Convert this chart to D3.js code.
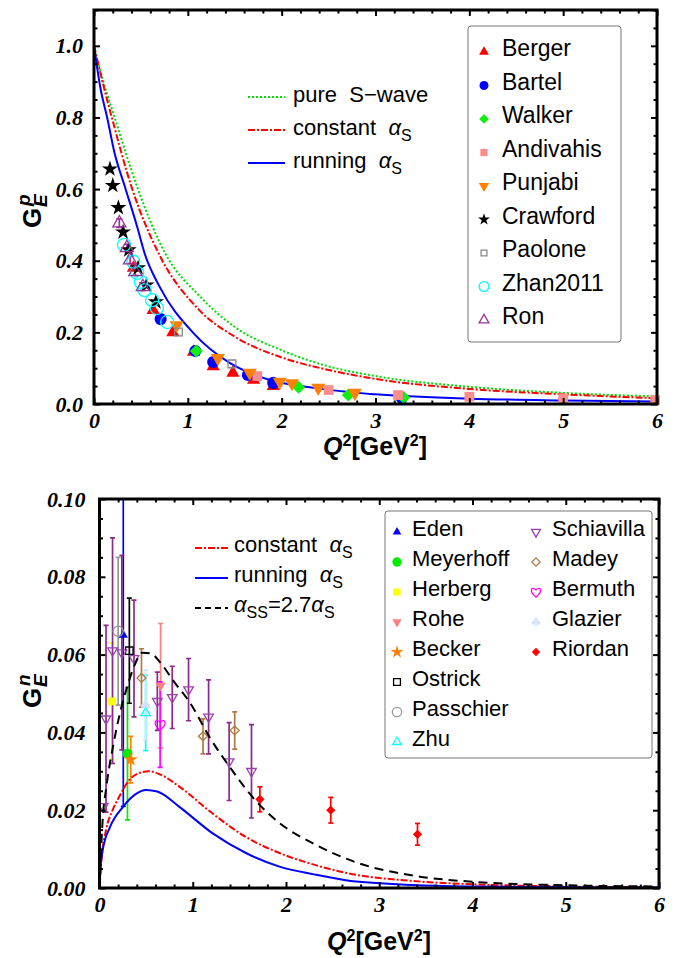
<!DOCTYPE html>
<html>
<head>
<meta charset="utf-8">
<script src="https://cdn.jsdelivr.net/npm/d3@7"></script>
<style>
  html, body { margin: 0; padding: 0; background: #fff; }
  svg { display: block; }
</style>
</head>
<body>
<div id="chart"></div>
<script>
// ---------- proton G_E data, [Q2, G] ----------
const berger    = [[0.42,0.38],[0.63,0.262],[0.84,0.2],[1.06,0.145],[1.27,0.105],[1.48,0.087],[1.7,0.067],[1.91,0.05]];
const bartel    = [[0.71,0.237],[1.08,0.148],[1.27,0.117],[1.64,0.081],[1.91,0.059],[3.28,0.017]];
const walker    = [[1.09,0.148],[2.18,0.047],[2.71,0.025],[3.3,0.018]];
const andivahis = [[1.74,0.078],[2.5,0.039],[3.24,0.025],[4.0,0.02],[5.0,0.016],[5.98,0.011]];
const punjabi   = [[0.88,0.22],[1.32,0.128],[1.66,0.087],[1.98,0.062],[2.11,0.058],[2.39,0.045],[2.78,0.031]];
const crawford  = [[0.17,0.656],[0.2,0.61],[0.26,0.548],[0.31,0.48],[0.37,0.43],[0.47,0.38],[0.56,0.332],[0.66,0.285]];
const paolone   = [[0.9,0.201],[1.47,0.112]];
const zhan2011  = [[0.32,0.444],[0.42,0.397],[0.46,0.366],[0.5,0.341],[0.54,0.318],[0.62,0.29],[0.67,0.268],[0.78,0.229]];
const ron       = [[0.27,0.505,0.012],[0.35,0.436,0.01],[0.385,0.402,0.01],[0.44,0.369,0.01],[0.52,0.327,0.01]];

// proton model curves, [Q2, G]
const pureSWave   = [[0,1],[0.1,0.9],[0.22,0.8],[0.46,0.606],[0.76,0.42],[1.13,0.3],[1.5,0.215],[2,0.15],[2.5,0.105],[3,0.078],[4,0.048],[5,0.031],[6,0.021]];
const constantP   = [[0,1],[0.1,0.89],[0.19,0.8],[0.4,0.606],[0.69,0.42],[1.13,0.26],[1.5,0.188],[2,0.13],[2.5,0.095],[3,0.07],[4,0.042],[5,0.027],[6,0.016]];
const runningP    = [[0,1],[0.07,0.88],[0.14,0.8],[0.22,0.7],[0.33,0.606],[0.46,0.495],[0.54,0.42],[0.7,0.327],[1.06,0.198],[1.45,0.114],[1.84,0.07],[2.34,0.045],[3,0.027],[4,0.015],[5,0.01],[6,0.007]];

// ---------- neutron G_E data, [Q2, G, error] ----------
const eden       = [[0.255,0.065,0.044]];
const meyerhoff  = [[0.30,0.0345,0.017]];
const herberg    = [[0.135,0.048,0.015]];
const rohe       = [[0.655,0.052,0.016]];
const becker     = [[0.335,0.033,0.006]];
const ostrick    = [[0.32,0.061,0.0135]];
const passchier  = [[0.20,0.066,0.019]];
const zhu        = [[0.495,0.045,0.0097]];
const schiavilla = [[0.04,0.021,0],[0.07,0.0435,0.024],[0.14,0.061,0.029],[0.24,0.0605,0.025],[0.37,0.059,0.015],[0.62,0.048,0.0075],[0.78,0.049,0.008],[0.955,0.051,0.008],[1.17,0.044,0.0095],[1.39,0.0325,0.01],[1.63,0.030,0.012]];
const madey      = [[0.45,0.054,0.0075],[1.11,0.039,0.0045],[1.45,0.0405,0.0048]];
const bermuth    = [[0.65,0.042,0.011]];
const glazier    = [[0.495,0.047,0.009]];
const riordan    = [[1.72,0.0228,0.0032],[2.48,0.020,0.0033],[3.41,0.0138,0.0028]];

// neutron model curves, [Q2, G]
const constantN = [[0,0],[0.018,0.0064],[0.07,0.0149],[0.14,0.02],[0.21,0.0234],[0.32,0.0278],[0.42,0.0295],[0.53,0.03],[0.65,0.0292],[0.86,0.026],[1.21,0.0192],[1.57,0.0131],[1.93,0.009],[2.3,0.006],[2.64,0.0039],[3.36,0.0018],[4.07,0.0009],[5,0.0004],[6,0.0002]];
const runningN  = [[0,0],[0.01,0.0048],[0.035,0.0098],[0.11,0.0155],[0.25,0.0208],[0.38,0.024],[0.5,0.0252],[0.62,0.0248],[0.86,0.0208],[1.21,0.0141],[1.57,0.009],[1.93,0.0055],[2.3,0.0035],[2.64,0.002],[3.36,0.0008],[4,0.0004],[5,0.0002],[6,0.0001]];
const alphaSSN  = [[0,0],[0.03,0.016],[0.08,0.027],[0.15,0.037],[0.22,0.045],[0.3,0.052],[0.38,0.0575],[0.46,0.0605],[0.55,0.0603],[0.65,0.058],[0.8,0.053],[0.96,0.048],[1.2,0.038],[1.4,0.031],[1.64,0.0234],[1.93,0.0167],[2.28,0.0116],[2.75,0.0066],[3.36,0.0032],[4,0.0016],[5,0.0007],[6,0.0004]];

// tick labels
const xTicks  = [0, 1, 2, 3, 4, 5, 6];
const gpTicks = [0, 0.2, 0.4, 0.6, 0.8, 1.0];
const gnTicks = [0, 0.02, 0.04, 0.06, 0.08, 0.10];

// ---------- setup ----------
const width = 676, height = 958;
const sans = "'Liberation Sans', Arial, sans-serif";
const serif = "'Liberation Serif', 'Times New Roman', serif";

const svg = d3.select('#chart').append('svg')
  .attr('width', width).attr('height', height)
  .style('background', '#fff');

// custom marker shapes
const triDown = { draw(ctx, size) {
  const y = -Math.sqrt(size / (Math.sqrt(3) * 3));
  ctx.moveTo(0, -2 * y); ctx.lineTo(-Math.sqrt(3) * y, y); ctx.lineTo(Math.sqrt(3) * y, y); ctx.closePath();
}};
const diamond = { draw(ctx, size) {
  const r = Math.sqrt(size / 2);
  ctx.moveTo(0, -r); ctx.lineTo(r, 0); ctx.lineTo(0, r); ctx.lineTo(-r, 0); ctx.closePath();
}};
const heart = { draw(ctx, size) {
  const r = Math.sqrt(size) / 2;
  ctx.moveTo(0, r * 1.05);
  ctx.bezierCurveTo(-r * 1.5, -r * 0.1, -r * 1.0, -r * 1.35, 0, -r * 0.45);
  ctx.bezierCurveTo(r * 1.0, -r * 1.35, r * 1.5, -r * 0.1, 0, r * 1.05);
  ctx.closePath();
}};
const club = { draw(ctx, size) {
  const r = Math.sqrt(size) / 4.2;
  [[0, -r * 1.1], [-r * 1.1, r * 0.4], [r * 1.1, r * 0.4]].forEach(([cx, cy]) => {
    ctx.moveTo(cx + r, cy); ctx.arc(cx, cy, r, 0, 2 * Math.PI);
  });
  ctx.moveTo(-r * 0.4, r * 2.3); ctx.lineTo(0, r * 0.2); ctx.lineTo(r * 0.4, r * 2.3); ctx.closePath();
}};
const shapes = {
  triUp: d3.symbolTriangle, triDown, circle: d3.symbolCircle, diamond,
  square: d3.symbolSquare, star: d3.symbolStar, heart, club
};
const marker = (type, size) => d3.symbol().type(shapes[type]).size(size)();

function drawMarkers(g, data, s, x, y) {
  const open = s.open;
  g.selectAll(null).data(data).enter().append('path')
    .attr('d', marker(s.sym, s.size))
    .attr('transform', d => `translate(${x(d[0])},${y(d[1])})`)
    .attr('fill', open ? 'none' : s.color)
    .attr('stroke', open ? s.color : 'none')
    .attr('stroke-width', open ? 1.3 : 0);
}

function drawErrors(g, data, color, x, y, cap) {
  const eg = g.append('g').attr('stroke', color).attr('stroke-width', 1.7).attr('fill', 'none');
  data.filter(d => d[2] > 0).forEach(d => {
    const cx = x(d[0]);
    eg.append('line').attr('x1', cx).attr('x2', cx).attr('y1', y(d[1] - d[2])).attr('y2', y(d[1] + d[2]));
    [d[1] - d[2], d[1] + d[2]].forEach(v => {
      eg.append('line').attr('x1', cx - cap).attr('x2', cx + cap).attr('y1', y(v)).attr('y2', y(v));
    });
  });
}

function drawFrame(x, y, xMinor, yMinor, yTicks, yFmt, yPad) {
  const [x0, x1] = x.range();
  const [yb, yt] = y.range();
  const axes = svg.append('g');
  const style = sel => {
    sel.select('.domain').remove();
    sel.selectAll('line').attr('stroke', '#000').attr('stroke-width', 2);
    sel.selectAll('text')
      .style('font-family', serif).style('font-weight', 'bold').style('font-style', 'italic')
      .style('font-size', '22px').attr('fill', '#000');
  };
  // major / minor on four sides
  axes.append('g').attr('transform', `translate(0,${yb})`)
    .call(d3.axisBottom(x).tickValues(xTicks).tickSize(-6).tickPadding(8).tickFormat(d3.format('d'))).call(style);
  axes.append('g').attr('transform', `translate(0,${yb})`)
    .call(d3.axisBottom(x).tickValues(xMinor).tickSize(-3.5).tickFormat('')).call(style);
  axes.append('g').attr('transform', `translate(0,${yt})`)
    .call(d3.axisTop(x).tickValues(xTicks).tickSize(-6).tickFormat('')).call(style);
  axes.append('g').attr('transform', `translate(0,${yt})`)
    .call(d3.axisTop(x).tickValues(xMinor).tickSize(-3.5).tickFormat('')).call(style);
  axes.append('g').attr('transform', `translate(${x0},0)`)
    .call(d3.axisLeft(y).tickValues(yTicks).tickSize(-6).tickPadding(yPad).tickFormat(yFmt)).call(style);
  axes.append('g').attr('transform', `translate(${x0},0)`)
    .call(d3.axisLeft(y).tickValues(yMinor).tickSize(-3.5).tickFormat('')).call(style);
  axes.append('g').attr('transform', `translate(${x1},0)`)
    .call(d3.axisRight(y).tickValues(yTicks).tickSize(-6).tickFormat('')).call(style);
  axes.append('g').attr('transform', `translate(${x1},0)`)
    .call(d3.axisRight(y).tickValues(yMinor).tickSize(-3.5).tickFormat('')).call(style);
  svg.append('rect')
    .attr('x', x0).attr('y', yt).attr('width', x1 - x0).attr('height', yb - yt)
    .attr('fill', 'none').attr('stroke', '#000').attr('stroke-width', 3);
}

function xTitle(cx, by) {
  const t = svg.append('text').attr('x', cx).attr('y', by).attr('text-anchor', 'middle')
    .style('font-family', sans).style('font-weight', 'bold').style('font-size', '25px');
  t.append('tspan').style('font-style', 'italic').text('Q');
  t.append('tspan').attr('dy', -9).style('font-size', '16px').text('2');
  t.append('tspan').attr('dy', 9).text('[GeV');
  t.append('tspan').attr('dy', -9).style('font-size', '16px').text('2');
  t.append('tspan').attr('dy', 9).text(']');
}

function yTitle(px, py, sup) {
  const g = svg.append('g').attr('transform', `translate(${px},${py}) rotate(-90)`)
    .style('font-family', sans).style('font-weight', 'bold');
  g.append('text').attr('x', 0).attr('y', 0).style('font-size', '26px').text('G');
  g.append('text').attr('x', 21).attr('y', 6).style('font-size', '19px').style('font-style', 'italic').text('E');
  g.append('text').attr('x', 22).attr('y', -11).style('font-size', '19px').style('font-style', 'italic').text(sup);
}

// text like "constant  αS"
function alphaText(g, x, y, parts) {
  const t = g.append('text').attr('x', x).attr('y', y)
    .style('font-family', sans).style('font-size', '22px').style('white-space', 'pre');
  parts.forEach(p => {
    const ts = t.append('tspan').text(p.t);
    if (p.it) ts.style('font-style', 'italic');
    if (p.sub) ts.attr('dy', 6).style('font-size', '16px');
    if (p.up) ts.attr('dy', -6);
  });
  return t;
}

const line = (x, y) => d3.line().x(d => x(d[0])).y(d => y(d[1])).curve(d3.curveMonotoneX);

// ============ TOP PANEL ============
const xP = d3.scaleLinear().domain([0, 6]).range([94, 657]);
const yP = d3.scaleLinear().domain([0, 1.1]).range([404, 10]);

const curvesP = [
  { data: pureSWave, color: '#00dd00', dash: '2,2', label: [{ t: 'pure  S\u2212wave' }] },
  { data: constantP, color: '#ff0000', dash: '7,2,2,2', label: [{ t: 'constant  ' }, { t: '\u03b1', it: true }, { t: 'S', sub: true }] },
  { data: runningP, color: '#0000ff', dash: null, label: [{ t: 'running  ' }, { t: '\u03b1', it: true }, { t: 'S', sub: true }] }
];

const setsP = [
  { name: 'Berger', data: berger, sym: 'triUp', size: 75, color: '#ff0000' },
  { name: 'Bartel', data: bartel, sym: 'circle', size: 115, color: '#0000ff' },
  { name: 'Walker', data: walker, sym: 'diamond', size: 85, color: '#11ee11' },
  { name: 'Andivahis', data: andivahis, sym: 'square', size: 95, color: '#ff8c8c' },
  { name: 'Punjabi', data: punjabi, sym: 'triDown', size: 85, color: '#ff8000' },
  { name: 'Crawford', data: crawford, sym: 'star', size: 80, color: '#000000' },
  { name: 'Paolone', data: paolone, sym: 'square', size: 60, color: '#888888', open: true },
  { name: 'Zhan2011', data: zhan2011, sym: 'circle', size: 135, color: '#00ffff', open: true },
  { name: 'Ron', data: ron, sym: 'triUp', size: 75, color: '#993399', open: true }
];

const gP = svg.append('g');
curvesP.forEach(c => {
  gP.append('path').datum(c.data).attr('d', line(xP, yP))
    .attr('fill', 'none').attr('stroke', c.color).attr('stroke-width', 2)
    .attr('stroke-dasharray', c.dash);
});
drawErrors(gP, ron, '#993399', xP, yP, 3);
setsP.forEach(s => drawMarkers(gP, s.data, s, xP, yP));

drawFrame(xP, yP, d3.range(0, 6.01, 0.2).filter(v => Math.abs(v - Math.round(v)) > 1e-6),
  d3.range(0, 1.101, 0.05).filter(v => Math.abs(v / 0.2 - Math.round(v / 0.2)) > 1e-6),
  gpTicks, d3.format('.1f'), 11);

// curve legend
curvesP.forEach((c, i) => {
  const by = 102 + i * 33;
  svg.append('line').attr('x1', 248).attr('x2', 285).attr('y1', by - 5).attr('y2', by - 5)
    .attr('stroke', c.color).attr('stroke-width', 2).attr('stroke-dasharray', c.dash);
  alphaText(svg, 293, by, c.label);
});

// marker legend
svg.append('rect').attr('x', 468).attr('y', 26).attr('width', 153).attr('height', 316)
  .attr('rx', 3).attr('fill', '#fff').attr('stroke', '#777').attr('stroke-width', 1);
setsP.forEach((s, i) => {
  const by = 56 + i * 33.5;
  const ls = Object.assign({}, s, { size: s.size * 0.55 });
  drawMarkers(svg.append('g'), [[0, 0]], ls, () => 484, () => by - 4);
  svg.append('text').attr('x', 502).attr('y', by)
    .style('font-family', sans).style('font-size', '23px').text(s.name);
});

yTitle(41, 228, 'p');
xTitle(375, 455);

// ============ BOTTOM PANEL ============
const xN = d3.scaleLinear().domain([0, 6]).range([99.5, 659]);
const yN = d3.scaleLinear().domain([0, 0.1]).range([888, 499]);

svg.append('clipPath').attr('id', 'clipN').append('rect')
  .attr('x', 99.5).attr('y', 499).attr('width', 659 - 99.5).attr('height', 888 - 499);

const curvesN = [
  { data: constantN, color: '#ff0000', dash: '7,2,2,2', label: [{ t: 'constant  ' }, { t: '\u03b1', it: true }, { t: 'S', sub: true }] },
  { data: runningN, color: '#0000ff', dash: null, label: [{ t: 'running  ' }, { t: '\u03b1', it: true }, { t: 'S', sub: true }] },
  { data: alphaSSN, color: '#000000', dash: '9,6', label: [{ t: '\u03b1', it: true }, { t: 'SS', sub: true }, { t: '=2.7', up: true }, { t: '\u03b1', it: true }, { t: 'S', sub: true }] }
];

const setsN = [
  { name: 'Eden', data: eden, sym: 'triUp', size: 38, color: '#0000ff' },
  { name: 'Meyerhoff', data: meyerhoff, sym: 'circle', size: 80, color: '#00ee00' },
  { name: 'Herberg', data: herberg, sym: 'square', size: 60, color: '#ffff00' },
  { name: 'Rohe', data: rohe, sym: 'triDown', size: 45, color: '#ff8080' },
  { name: 'Becker', data: becker, sym: 'star', size: 60, color: '#ff8000' },
  { name: 'Ostrick', data: ostrick, sym: 'square', size: 55, color: '#000000', open: true },
  { name: 'Passchier', data: passchier, sym: 'circle', size: 80, color: '#999999', open: true },
  { name: 'Zhu', data: zhu, sym: 'triUp', size: 38, color: '#00ffff', open: true },
  { name: 'Schiavilla', data: schiavilla, sym: 'triDown', size: 40, color: '#9944aa', bar: '#8b2a8b', open: true },
  { name: 'Madey', data: madey, sym: 'diamond', size: 40, color: '#b07a45', open: true },
  { name: 'Bermuth', data: bermuth, sym: 'heart', size: 110, color: '#ff00ff', open: true },
  { name: 'Glazier', data: glazier, sym: 'club', size: 90, color: '#cfe3ff' },
  { name: 'Riordan', data: riordan, sym: 'diamond', size: 42, color: '#ff0000' }
];

const gN = svg.append('g').attr('clip-path', 'url(#clipN)');
setsN.forEach(s => drawErrors(gN, s.data, s.bar || s.color, xN, yN, 2.5));
setsN.forEach(s => drawMarkers(gN, s.data, s, xN, yN));
curvesN.forEach(c => {
  gN.append('path').datum(c.data).attr('d', line(xN, yN))
    .attr('fill', 'none').attr('stroke', c.color).attr('stroke-width', 2)
    .attr('stroke-dasharray', c.dash);
});

drawFrame(xN, yN, d3.range(0, 6.01, 0.2).filter(v => Math.abs(v - Math.round(v)) > 1e-6),
  d3.range(0, 0.1001, 0.005).filter(v => Math.abs(v / 0.02 - Math.round(v / 0.02)) > 1e-6),
  gnTicks, d3.format('.2f'), 14);

// curve legend
curvesN.forEach((c, i) => {
  const by = 552 + i * 30;
  svg.append('line').attr('x1', 195).attr('x2', 228).attr('y1', by - 4).attr('y2', by - 4)
    .attr('stroke', c.color).attr('stroke-width', 2).attr('stroke-dasharray', c.dash === '9,6' ? '6,4' : c.dash);
  alphaText(svg, 234, by, c.label);
});

// marker legend, two columns
svg.append('rect').attr('x', 385).attr('y', 511).attr('width', 267).attr('height', 247)
  .attr('rx', 3).attr('fill', '#fff').attr('stroke', '#777').attr('stroke-width', 1);
setsN.forEach((s, i) => {
  const col = i < 8 ? 0 : 1;
  const row = col === 0 ? i : i - 8;
  const by = 536 + row * 30;
  const mx = col === 0 ? 397 : 536;
  const tx = col === 0 ? 412 : 552;
  const ls = Object.assign({}, s, { size: s.size * 0.85 });
  drawMarkers(svg.append('g'), [[0, 0]], ls, () => mx, () => by - 4);
  svg.append('text').attr('x', tx).attr('y', by)
    .style('font-family', sans).style('font-size', '22px').text(s.name);
});

yTitle(41, 708, 'n');
xTitle(379, 950);
</script>
</body>
</html>
